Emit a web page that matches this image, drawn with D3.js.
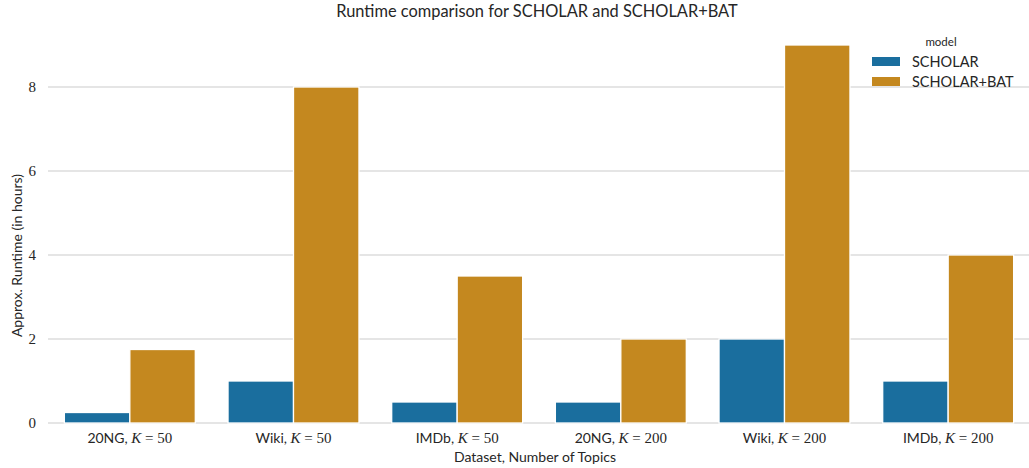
<!DOCTYPE html>
<html>
<head>
<meta charset="utf-8">
<script src="https://cdn.jsdelivr.net/npm/d3@7/dist/d3.min.js"></script>
<style>
  body { margin: 0; background: #fff; }
  svg { display: block; }
  text, tspan { white-space: pre; }
  .sans { font-family: Lato, "Open Sans", sans-serif; fill: #262626; }
  .serif { font-family: "Liberation Serif", "DejaVu Serif", serif; fill: #262626; }
</style>
</head>
<body>
<svg id="chart" width="1029" height="468"></svg>
<script>
// Datasets with their topic counts
const datasets = ["20NG", "Wiki", "IMDb", "20NG", "Wiki", "IMDb"];
const topics = [50, 50, 50, 200, 200, 200];
const models = ["SCHOLAR", "SCHOLAR+BAT"];
// Approximate runtime in hours
const scholar = [0.25, 1, 0.5, 0.5, 2, 1];
const scholarBat = [1.75, 8, 3.5, 2, 9, 4];
const yTicks = [0, 2, 4, 6, 8];
const colors = ["#1a6e9e", "#c4881f"];

const svg = d3.select("#chart");
const plotLeft = 48, plotRight = 1030, plotTop = 28, plotBottom = 423;

const groups = datasets.map((d, i) => i);
const x = d3.scaleBand().domain(groups).range([plotLeft, plotRight]).paddingInner(0).paddingOuter(0);
const xInner = d3.scaleBand().domain(models).range([0, x.bandwidth()]).paddingInner(0).paddingOuter(0.25);
const y = d3.scaleLinear().domain([0, 9]).range([plotBottom, plotBottom - 9 * 42]);

// grid
svg.append("g").selectAll("line").data(yTicks).join("line")
  .attr("x1", plotLeft).attr("x2", 1029)
  .attr("y1", d => y(d)).attr("y2", d => y(d))
  .attr("stroke", "#cccccc").attr("stroke-width", 1.2);

// y tick labels
svg.append("g").selectAll("text").data(yTicks).join("text")
  .attr("class", "serif")
  .attr("x", plotLeft - 12).attr("y", d => y(d)).attr("dy", "0.35em")
  .attr("text-anchor", "end").attr("font-size", 15)
  .text(d => d);

// bars
const series = [scholar, scholarBat];
models.forEach((m, k) => {
  svg.append("g").selectAll("rect").data(series[k]).join("rect")
    .attr("x", (d, i) => x(i) + xInner(m))
    .attr("width", xInner.bandwidth())
    .attr("y", d => y(d))
    .attr("height", d => y(0) - y(d))
    .attr("fill", colors[k])
    .attr("stroke", "#ffffff").attr("stroke-width", 1.3);
});

// category labels: dataset name, italic K, and topic count
const cat = svg.append("g").selectAll("text").data(groups).join("text")
  .attr("x", i => x(i) + x.bandwidth() / 2)
  .attr("y", 443).attr("text-anchor", "middle").attr("font-size", 14);
cat.append("tspan").attr("class", "sans").text(i => datasets[i] + ", ");
cat.append("tspan").attr("class", "serif").attr("font-style", "italic").attr("font-size", 15).text("K");
cat.append("tspan").attr("class", "serif").attr("font-size", 15).text(i => " = " + topics[i]);

// axis titles
svg.append("text").attr("class", "sans")
  .attr("x", (plotLeft + 1014) / 2 + 4).attr("y", 462)
  .attr("text-anchor", "middle").attr("font-size", 14)
  .text("Dataset, Number of Topics");
svg.append("text").attr("class", "sans")
  .attr("transform", `translate(22, ${(plotTop + plotBottom) / 2 + 30}) rotate(-90)`)
  .attr("text-anchor", "middle").attr("font-size", 14)
  .text("Approx. Runtime (in hours)");

// title
svg.append("text").attr("class", "sans")
  .attr("x", 537).attr("y", 17)
  .attr("text-anchor", "middle").attr("font-size", 16.4)
  .text("Runtime comparison for SCHOLAR and SCHOLAR+BAT");

// legend
const lg = svg.append("g");
lg.append("text").attr("class", "sans").attr("x", 941).attr("y", 46)
  .attr("text-anchor", "middle").attr("font-size", 11.5).text("model");
models.forEach((m, k) => {
  lg.append("rect").attr("x", 872).attr("y", 57 + k * 20).attr("width", 28).attr("height", 9)
    .attr("fill", colors[k]);
  lg.append("text").attr("class", "sans").attr("x", 912).attr("y", 61.5 + k * 20)
    .attr("dy", "0.35em").attr("font-size", 14.5).text(m);
});
</script>
</body>
</html>
